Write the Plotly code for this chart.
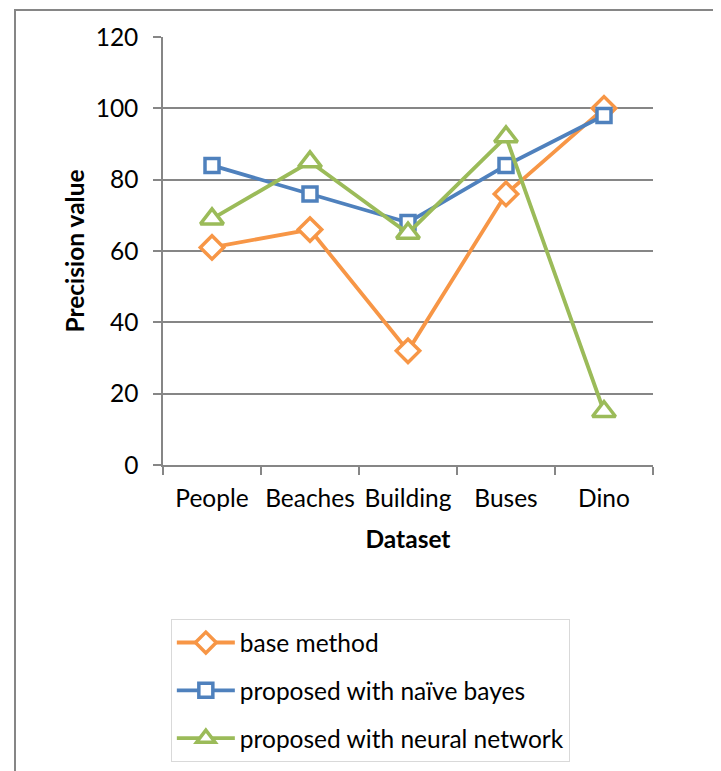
import plotly.graph_objects as go

categories = ["People", "Beaches", "Building", "Buses", "Dino"]
base_method = [61, 66, 32, 76, 100]
naive_bayes = [84, 76, 68, 84, 98]
neural_network = [69, 85, 65, 92, 15]
y_ticks = [0, 20, 40, 60, 80, 100, 120]

series = [
    ("base method", base_method, "#F79646", "diamond", 18),
    ("proposed with naïve bayes", naive_bayes, "#4F81BD", "square", 14),
    ("proposed with neural network", neural_network, "#9BBB59", "triangle-up", 20),
]

fig = go.Figure()
for name, vals, color, sym, size in series:
    fig.add_trace(go.Scatter(
        x=categories, y=vals, name=name, mode="lines+markers",
        legendgroup=name,
        line=dict(color=color, width=3.8),
        marker=dict(symbol=sym, size=size, color="white", line=dict(color=color, width=3.5)),
    ))

font = "Lato, Liberation Sans, sans-serif"
fs = 24.5
fig.update_layout(
    width=721, height=771,
    margin=dict(l=155, r=76, t=29, b=314),
    paper_bgcolor="white", plot_bgcolor="white",
    font=dict(family=font, size=fs, color="black"),
    showlegend=True,
    legend=dict(
        x=0.016, y=-0.36, xanchor="left", yanchor="top",
        bordercolor="#D9D9D9", borderwidth=1,
        font=dict(size=fs, family=font),
        tracegroupgap=13,
        itemwidth=58,
    ),
    xaxis=dict(
        type="category",
        showgrid=False,
        showline=True, linecolor="#868686", linewidth=1.5,
        ticks="outside", tickson="boundaries", ticklen=8, tickcolor="#868686", tickwidth=1.5,
        tickangle=0,
        ticklabelstandoff=11,
        title=dict(text="<b>Dataset</b>", font=dict(size=fs), standoff=20),
        range=[-0.5, 4.5],
    ),
    yaxis=dict(
        range=[0, 120], tickvals=y_ticks,
        showgrid=True, gridcolor="#868686", gridwidth=1.5,
        showline=True, linecolor="#868686", linewidth=1.5,
        ticks="outside", ticklen=8, tickcolor="#868686", tickwidth=1.5,
        ticklabelstandoff=10,
        zeroline=False,
        title=dict(text="<b>Precision value</b>", font=dict(size=fs), standoff=4),
    ),
    shapes=[dict(type="rect", xref="paper", yref="paper",
                 x0=-148/490, x1=564/490, y0=-320/428, y1=455/428,
                 line=dict(color="#868686", width=2), fillcolor="rgba(0,0,0,0)", layer="below")],
)

fig.write_html("out.html")
